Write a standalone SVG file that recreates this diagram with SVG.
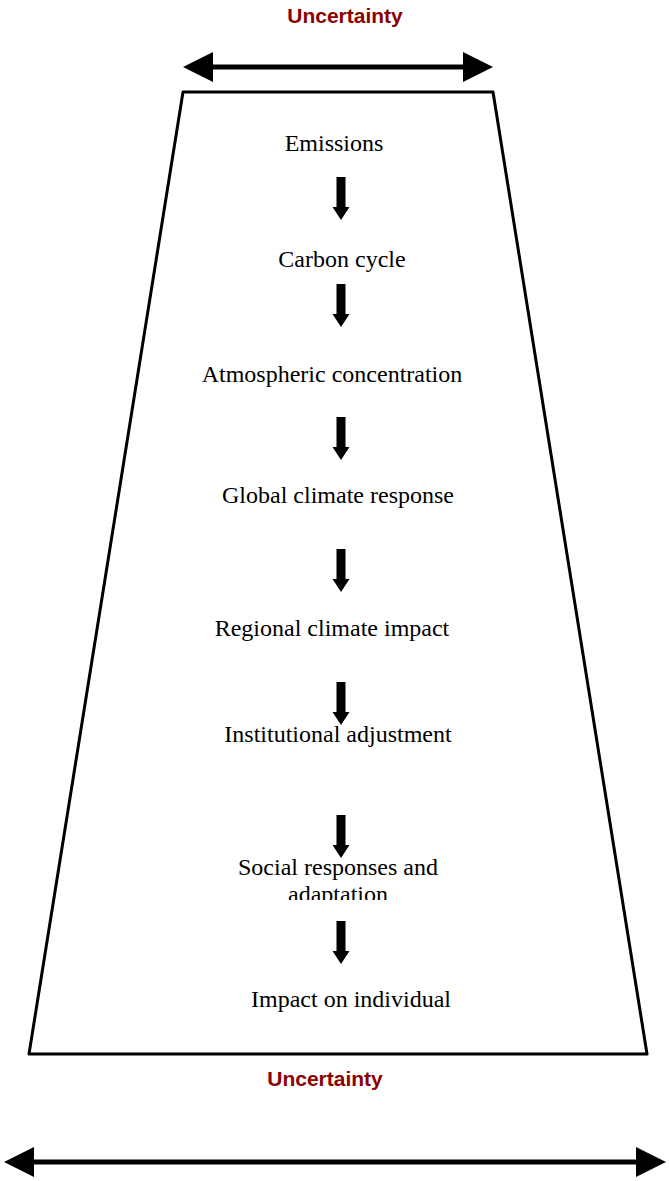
<svg xmlns="http://www.w3.org/2000/svg" width="669" height="1181" viewBox="0 0 669 1181">
<style>
.lbl{font-family:"Liberation Serif","Times New Roman",serif;font-size:24px;fill:#000;text-anchor:middle}
.unc{font-family:"Liberation Sans",Arial,sans-serif;font-size:21px;font-weight:bold;fill:#8b0000;text-anchor:middle}
.big{stroke:#000;stroke-width:5;fill:none}
</style>
<defs>
<path id="dn" d="M-4.5,0 H4.5 V30 H8.5 L0,43 L-8.5,30 H-4.5 Z" fill="#000"/>
<clipPath id="clipSoc"><rect x="200" y="840" width="300" height="60"/></clipPath>
</defs>
<rect width="669" height="1181" fill="#fff"/>
<g id="frame">
<polygon points="183,92 493,92 647,1054 29,1054" fill="none" stroke="#000" stroke-width="3" stroke-linejoin="round"/>
</g>
<g id="top-uncertainty">
<text class="unc" x="345" y="23">Uncertainty</text>
<line class="big" x1="205" y1="67" x2="471" y2="67"/>
<polygon points="183,67 213,52 213,82"/>
<polygon points="493,67 463,52 463,82"/>
</g>
<g id="bottom-uncertainty">
<text class="unc" x="325" y="1086">Uncertainty</text>
<line class="big" x1="25" y1="1162" x2="645" y2="1162" stroke-width="6"/>
<polygon points="4,1162 34,1147 34,1177"/>
<polygon points="666,1162 636,1147 636,1177"/>
</g>
<g id="n1"><text class="lbl" x="334" y="151">Emissions</text></g>
<g id="n2"><text class="lbl" x="342" y="267">Carbon cycle</text></g>
<g id="n3"><text class="lbl" x="332" y="382">Atmospheric concentration</text></g>
<g id="n4"><text class="lbl" x="338" y="503">Global climate response</text></g>
<g id="n5"><text class="lbl" x="332" y="636">Regional climate impact</text></g>
<g id="n6"><text class="lbl" x="338" y="742">Institutional adjustment</text></g>
<g id="n7" clip-path="url(#clipSoc)"><text class="lbl" x="338" y="875">Social responses and</text><text class="lbl" x="338" y="902">adaptation</text></g>
<g id="n8"><text class="lbl" x="351" y="1007">Impact on individual</text></g>
<g id="connectors">
<use href="#dn" x="341" y="177"/>
<use href="#dn" x="341" y="284"/>
<use href="#dn" x="341" y="417"/>
<use href="#dn" x="341" y="549"/>
<use href="#dn" x="341" y="682"/>
<use href="#dn" x="341" y="815"/>
<use href="#dn" x="341" y="921"/>
</g>
</svg>
